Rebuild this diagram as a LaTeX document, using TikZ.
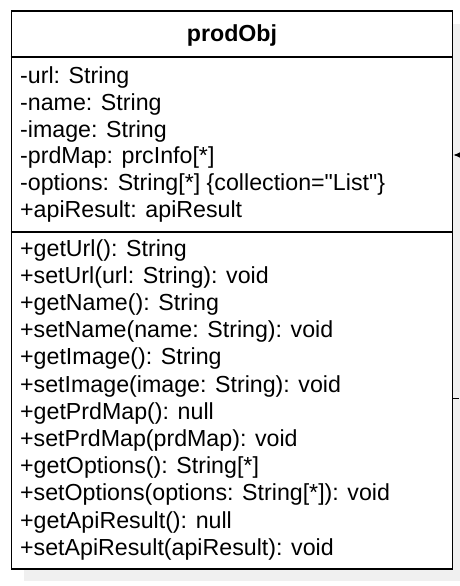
\documentclass[tikz,border=0pt]{standalone}
\usepackage{fontspec}
\setmainfont{Liberation Sans}[Ligatures=TeXOff]
\usetikzlibrary{arrows.meta}
\begin{document}
\begin{tikzpicture}[x=1pt,y=-1pt,
  txt/.style={anchor=base west,inner sep=0pt,font=\fontsize{23.2}{26}\selectfont},
  ttl/.style={anchor=base,inner sep=0pt,font=\fontsize{23.2}{26}\selectfont\bfseries},
  sep/.style={line width=1.2pt},
  classbox/.style={draw,line width=1.6pt,fill=white,inner sep=0pt,minimum width=441pt,minimum height=558pt}]
\useasboundingbox (0,0) rectangle (460,586);
\fill[black!6] (24,24) rectangle (466,581);
\node[classbox] (cls) at (232,290) {};
\draw[sep] (cls.west |- 0,57) -- (cls.east |- 0,57);
\draw[sep] (cls.west |- 0,232) -- (cls.east |- 0,232);
\node[ttl] (title) at (232,42) {prodObj};
\node[txt] (a1) at (20,84) {-url: String};
\node[txt] (a2) at (20,110.6) {-name: String};
\node[txt] (a3) at (20,137.2) {-image: String};
\node[txt] (a4) at (20,163.8) {-prdMap: prcInfo[*]};
\node[txt] (a5) at (20,190.4) {-options: String[*] \{collection="List"\}};
\node[txt] (a6) at (20,217) {+apiResult: apiResult};
\node[txt] (m1) at (20,256) {+getUrl(): String};
\node[txt] (m2) at (20,283.2) {+setUrl(url: String): void};
\node[txt] (m3) at (20,310.4) {+getName(): String};
\node[txt] (m4) at (20,337.6) {+setName(name: String): void};
\node[txt] (m5) at (20,364.8) {+getImage(): String};
\node[txt] (m6) at (20,392) {+setImage(image: String): void};
\node[txt] (m7) at (20,419.2) {+getPrdMap(): null};
\node[txt] (m8) at (20,446.4) {+setPrdMap(prdMap): void};
\node[txt] (m9) at (20,473.6) {+getOptions(): String[*]};
\node[txt] (m10) at (20,500.8) {+setOptions(options: String[*]): void};
\node[txt] (m11) at (20,528) {+getApiResult(): null};
\node[txt] (m12) at (20,555.2) {+setApiResult(apiResult): void};
\coordinate (e1) at (466,155);
\coordinate (e2) at (459,398);
\draw[line width=1pt,-{Latex[length=7pt,width=6pt]}] (e1) -- (e1 -| cls.east);
\draw[line width=1pt] (cls.east |- e2) -- (e2);
\end{tikzpicture}
\end{document}
